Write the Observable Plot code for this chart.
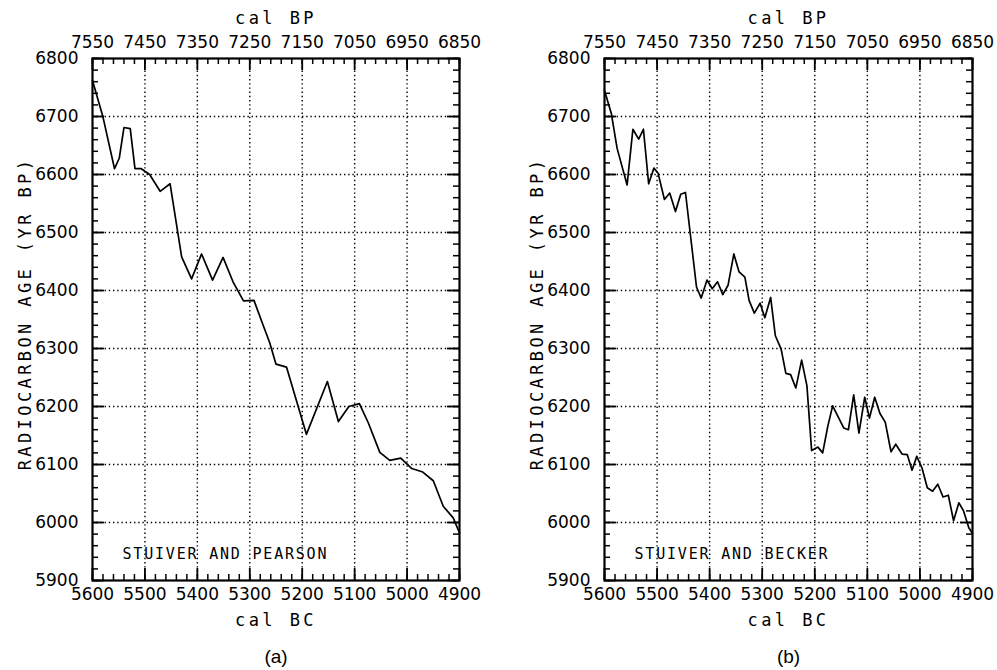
<!DOCTYPE html>
<html>
<head>
<meta charset="utf-8">
<script src="https://cdn.jsdelivr.net/npm/d3@7"></script>
<script src="https://cdn.jsdelivr.net/npm/@observablehq/plot@0.6"></script>
<style>
  html, body { margin: 0; padding: 0; background: #fff; }
  #wrap { display: flex; width: 997px; height: 670px; }
  svg g[font-family="DejaVu Sans Mono"][font-size="17"] text { letter-spacing: 3.4px; }
  svg g[font-family="DejaVu Sans Mono"][font-size="15"] text { letter-spacing: 1.8px; }
</style>
</head>
<body>
<div id="wrap"></div>
<script>
// ---- tick values and labels ----
const bcTicks = [5600, 5500, 5400, 5300, 5200, 5100, 5000, 4900];
const bpLabels = ["7550", "7450", "7350", "7250", "7150", "7050", "6950", "6850"];
const ageTicks = [5900, 6000, 6100, 6200, 6300, 6400, 6500, 6600, 6700, 6800];

// ---- text ----
const topTitle = "cal BP";
const bottomTitle = "cal BC";
const yTitle = "RADIOCARBON AGE (YR BP)";
const noteA = "STUIVER AND PEARSON";
const noteB = "STUIVER AND BECKER";
const tagA = "(a)";
const tagB = "(b)";

// ---- series (a): Stuiver and Pearson ----
const pearsonYear = [5600, 5580, 5558, 5549, 5540, 5528, 5519, 5507, 5491, 5471, 5452, 5430, 5411, 5392, 5371, 5351, 5332, 5312, 5292, 5277, 5262, 5250, 5230, 5192, 5152, 5131, 5111, 5091, 5074, 5052, 5033, 5012, 4991, 4970, 4950, 4931, 4912, 4900];
const pearsonAge  = [6762, 6699, 6610, 6628, 6681, 6679, 6610, 6610, 6600, 6571, 6584, 6458, 6420, 6463, 6418, 6457, 6415, 6382, 6383, 6346, 6310, 6273, 6268, 6152, 6243, 6174, 6200, 6205, 6172, 6121, 6107, 6111, 6093, 6087, 6072, 6028, 6008, 5982];

// ---- series (b): Stuiver and Becker ----
const beckerYear = [5600, 5587, 5576, 5557, 5546, 5535, 5526, 5516, 5506, 5498, 5486, 5476, 5465, 5455, 5446, 5425, 5416, 5405, 5395, 5385, 5375, 5365, 5354, 5344, 5333, 5325, 5315, 5304, 5295, 5284, 5275, 5264, 5255, 5246, 5236, 5225, 5215, 5206, 5194, 5185, 5175, 5166, 5145, 5136, 5126, 5116, 5105, 5096, 5086, 5076, 5066, 5055, 5046, 5034, 5024, 5015, 5006, 4996, 4986, 4976, 4966, 4956, 4946, 4936, 4926, 4917, 4907, 4900];
const beckerAge  = [6745, 6705, 6645, 6582, 6678, 6661, 6678, 6584, 6611, 6602, 6557, 6568, 6536, 6566, 6569, 6406, 6387, 6418, 6403, 6415, 6393, 6409, 6463, 6432, 6423, 6383, 6361, 6378, 6353, 6388, 6322, 6299, 6257, 6255, 6232, 6280, 6236, 6124, 6130, 6120, 6167, 6201, 6163, 6160, 6220, 6154, 6216, 6180, 6216, 6188, 6173, 6122, 6135, 6118, 6117, 6090, 6114, 6094, 6060, 6054, 6066, 6044, 6047, 6003, 6034, 6020, 5991, 5981];

const bpLabelOf = new Map(bcTicks.map((d, i) => [d, bpLabels[i]]));
const minorX = d3.range(5600, 4899, -20);
const minorY = d3.range(5900, 6801, 20);

function panel(years, ages, note, tag, width, ml, mr) {
  const data = years.map((x, i) => ({x, y: ages[i]}));
  const H = 670, mt = 58, mb = 90;
  const ph = H - mt - mb;
  const pw = width - ml - mr;
  const major = 12, minor = 6;
  const tickFont = {fontFamily: "DejaVu Sans", fontSize: 17};
  return Plot.plot({
    width, height: H,
    marginLeft: ml, marginRight: mr, marginTop: mt, marginBottom: mb,
    x: {domain: [5600, 4900]},
    y: {domain: [5900, 6800]},
    style: {background: "white", color: "black", fontFamily: "DejaVu Sans", fontSize: "17px", overflow: "visible"},
    marks: [
      // dotted grid
      Plot.ruleX(bcTicks.slice(1, -1), {x: d => d, stroke: "black", strokeWidth: 1.4, strokeDasharray: "1.4,2.8"}),
      Plot.ruleY(ageTicks.slice(1, -1), {y: d => d, stroke: "black", strokeWidth: 1.4, strokeDasharray: "1.4,2.8"}),
      // inward ticks, bottom/top
      Plot.ruleX(minorX, {x: d => d, insetTop: ph - minor, strokeWidth: 1.5}),
      Plot.ruleX(minorX, {x: d => d, insetBottom: ph - minor, strokeWidth: 1.5}),
      Plot.ruleX(bcTicks, {x: d => d, insetTop: ph - major, strokeWidth: 1.8}),
      Plot.ruleX(bcTicks, {x: d => d, insetBottom: ph - major, strokeWidth: 1.8}),
      // inward ticks, left/right
      Plot.ruleY(minorY, {y: d => d, insetRight: pw - minor, strokeWidth: 1.5}),
      Plot.ruleY(minorY, {y: d => d, insetLeft: pw - minor, strokeWidth: 1.5}),
      Plot.ruleY(ageTicks, {y: d => d, insetRight: pw - major, strokeWidth: 1.8}),
      Plot.ruleY(ageTicks, {y: d => d, insetLeft: pw - major, strokeWidth: 1.8}),
      // axes labels
      Plot.axisX(bcTicks, {anchor: "bottom", tickSize: 0, tickPadding: 7, label: null, tickFormat: d => String(d), ...tickFont}),
      Plot.axisX(bcTicks, {anchor: "top", tickSize: 0, tickPadding: 11, label: null, tickFormat: d => bpLabelOf.get(d), ...tickFont}),
      Plot.axisY(ageTicks, {anchor: "left", tickSize: 0, tickPadding: 14, label: null, tickFormat: d => String(d), ...tickFont}),
      // data line
      Plot.line(data, {x: "x", y: "y", stroke: "black", strokeWidth: 1.7, strokeLinejoin: "round"}),
      // frame
      Plot.frame({stroke: "black", strokeWidth: 2.2}),
      // titles
      Plot.text([topTitle], {frameAnchor: "top", dy: -35, lineAnchor: "bottom", fontFamily: "DejaVu Sans Mono", fontSize: 17}),
      Plot.text([bottomTitle], {frameAnchor: "bottom", dy: 45, lineAnchor: "bottom", fontFamily: "DejaVu Sans Mono", fontSize: 17}),
      Plot.text([yTitle], {frameAnchor: "left", dx: -67, dy: -6, rotate: -90, textAnchor: "middle", lineAnchor: "middle", fontFamily: "DejaVu Sans Mono", fontSize: 17}),
      Plot.text([note], {frameAnchor: "bottom-left", dx: 30, dy: -22, lineAnchor: "bottom", textAnchor: "start", fontFamily: "DejaVu Sans Mono", fontSize: 15}),
      Plot.text([tag], {frameAnchor: "bottom", dy: 82, lineAnchor: "bottom", fontFamily: "Liberation Sans", fontSize: 19})
    ]
  });
}

const wrap = document.getElementById("wrap");
wrap.appendChild(panel(pearsonYear, pearsonAge, noteA, tagA, 498, 92, 39));
wrap.appendChild(panel(beckerYear, beckerAge, noteB, tagB, 499, 106, 25));
</script>
</body>
</html>
